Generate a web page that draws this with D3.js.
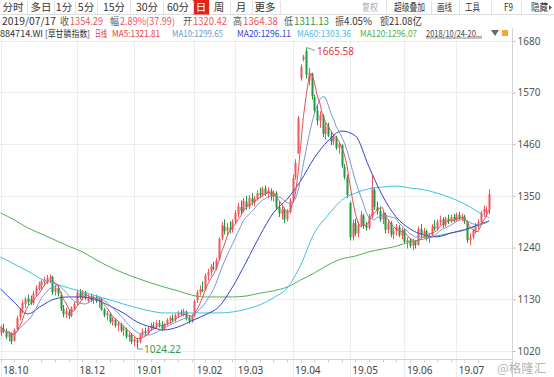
<!DOCTYPE html>
<html>
<head>
<meta charset="utf-8">
<script src="https://cdn.jsdelivr.net/npm/d3@7"></script>
<style>
  body { margin: 0; background: #fff; }
  svg { display: block; font-family: "Noto Sans CJK SC", "Noto Sans", sans-serif; }
</style>
</head>
<body>
<svg id="chart" width="554" height="377"></svg>
<script>
// Daily K-line of 884714.WI, 2018/10/24 - 2019/07/17

const opens = [
  1058,1068,1060,1050,1056,1042,1066,1092,1110,1120,1132,1130,1122,1140,1152,1160,1166,1170,1174,1178,
  1146,1154,1140,1110,1098,1104,1095,1110,1122,1144,1136,1145,1126,1134,1128,1134,1126,1130,1108,1096,
  1098,1082,1086,1074,1076,1064,1066,1050,1054,1040,1042,1040,1055,1062,1058,1068,1074,1072,1080,1076,
  1068,1078,1085,1090,1086,1096,1102,1098,1104,1090,1084,1094,1128,1144,1150,1150,1180,1188,1198,1196,
  1215,1260,1285,1276,1282,1278,1296,1312,1326,1318,1338,1326,1344,1336,1344,1356,1352,1366,1354,1360,
  1348,1356,1326,1312,1320,1300,1316,1340,1390,1440,1600,1640,1658,1595,1610,1560,1532,1510,1520,1482,
  1498,1478,1466,1474,1452,1458,1412,1390,1335,1262,1292,1270,1288,1308,1288,1282,1306,1362,1326,1318,
  1300,1310,1278,1292,1268,1275,1284,1266,1278,1252,1256,1244,1250,1246,1280,1268,1275,1260,1266,1285,
  1280,1294,1300,1288,1302,1296,1305,1298,1310,1302,1306,1296,1256,1262,1275,1284,1294,1314,1316,1320.42
];
const highs = [
  1075,1078,1068,1062,1060,1068,1095,1112,1128,1135,1140,1138,1148,1160,1168,1172,1178,1182,1183,1180,
  1162,1160,1145,1118,1112,1108,1115,1125,1150,1152,1150,1148,1140,1142,1138,1140,1136,1132,1112,1105,
  1102,1092,1090,1082,1080,1072,1070,1060,1058,1052,1048,1058,1068,1070,1072,1080,1082,1085,1086,1084,
  1080,1090,1095,1098,1100,1106,1108,1110,1106,1096,1098,1130,1150,1160,1168,1185,1195,1205,1210,1218,
  1262,1295,1300,1292,1296,1300,1320,1335,1340,1346,1350,1352,1356,1350,1362,1368,1370,1372,1368,1366,
  1362,1360,1338,1330,1325,1322,1345,1395,1428,1520,1630,1650,1665.58,1622,1612,1565,1545,1530,1524,1505,
  1506,1488,1482,1478,1466,1460,1418,1395,1338,1300,1302,1295,1318,1312,1295,1312,1395,1368,1338,1328,
  1318,1314,1300,1296,1282,1290,1288,1282,1280,1262,1260,1258,1256,1285,1290,1282,1278,1270,1290,1298,
  1300,1308,1305,1306,1310,1310,1312,1314,1316,1312,1310,1298,1270,1280,1292,1300,1318,1330,1328,1364.38
];
const lows = [
  1052,1058,1045,1040,1034,1040,1062,1085,1100,1112,1118,1118,1118,1135,1148,1150,1158,1162,1165,1140,
  1138,1136,1105,1092,1090,1088,1092,1106,1118,1130,1128,1128,1122,1124,1120,1122,1112,1105,1092,1085,
  1078,1074,1070,1062,1060,1052,1046,1040,1035,1030,1024.22,1036,1050,1052,1055,1062,1066,1068,1070,1062,
  1064,1074,1078,1082,1082,1090,1094,1094,1085,1078,1080,1092,1122,1138,1145,1148,1170,1180,1192,1192,
  1212,1255,1268,1265,1270,1272,1290,1305,1312,1315,1320,1322,1330,1328,1340,1345,1348,1350,1345,1340,
  1338,1320,1305,1300,1292,1296,1312,1335,1385,1440,1595,1636,1600,1585,1555,1525,1500,1495,1475,1470,
  1475,1458,1458,1448,1440,1410,1385,1345,1255,1255,1265,1262,1284,1280,1276,1278,1302,1320,1310,1295,
  1290,1270,1270,1262,1258,1265,1262,1258,1248,1238,1240,1234,1238,1244,1262,1260,1255,1250,1262,1276,
  1276,1288,1282,1284,1290,1292,1294,1295,1298,1296,1290,1250,1245,1258,1270,1280,1290,1305,1305,1311.13
];
const closes = [
  1070,1062,1050,1058,1040,1065,1090,1108,1122,1130,1124,1122,1142,1155,1162,1168,1172,1176,1178,1145,
  1155,1142,1110,1098,1105,1094,1112,1120,1145,1136,1146,1132,1134,1128,1134,1126,1130,1108,1096,1100,
  1082,1088,1074,1078,1064,1068,1050,1055,1040,1045,1038,1055,1062,1058,1068,1075,1072,1080,1076,1066,
  1078,1086,1090,1086,1096,1102,1098,1105,1090,1084,1094,1126,1145,1152,1148,1180,1188,1200,1195,1212,
  1258,1288,1275,1284,1278,1295,1314,1328,1318,1340,1326,1346,1336,1345,1356,1352,1365,1354,1362,1348,
  1356,1325,1312,1322,1300,1316,1340,1388,1420,1515,1625,1646,1608,1612,1562,1532,1510,1522,1482,1498,
  1478,1466,1476,1452,1460,1414,1390,1352,1262,1292,1270,1288,1310,1286,1282,1306,1368,1326,1318,1300,
  1312,1278,1292,1268,1275,1284,1266,1278,1252,1256,1244,1252,1246,1280,1268,1275,1260,1265,1285,1280,
  1295,1300,1288,1302,1296,1305,1298,1310,1302,1306,1296,1256,1262,1275,1284,1294,1314,1322,1320,1354.29
];

// long moving averages every 5 sessions
const maIdx = [0,5,10,15,20,25,30,35,40,45,50,55,60,65,70,75,80,85,90,95,100,105,110,115,120,125,130,135,140,145,150,155,160,165,170,175,179];
const ma20 = [1152,1124,1099,1116,1131,1135,1135,1129,1116,1101,1082,1071,1065,1071,1084,1097,1114,1156,1209,1265,1314,1343,1382,1431,1467,1488,1478,1412,1350,1305,1280,1267,1263,1271,1278,1288,1296.11];
const ma60 = [1220,1205,1190,1173,1163,1154,1146,1137,1129,1120,1112,1105,1101,1101,1101,1101,1101,1103,1109,1118,1133,1154,1203,1271,1309,1341,1356,1365,1369,1371,1367,1363,1356,1346,1333,1316,1303.36];
const ma120 = [1314,1299,1282,1269,1256,1243,1231,1214,1199,1186,1175,1165,1156,1148,1139,1135,1135,1135,1137,1143,1148,1156,1171,1186,1203,1216,1222,1231,1237,1243,1252,1258,1265,1271,1277,1288,1296.07];

const yTicks = [1020, 1130, 1240, 1350, 1460, 1570, 1680];
const monthIdx = [0, 28, 49, 71, 86, 107, 128, 148, 167];
const monthLabels = ['18.10','18.12','19.01','19.02','19.03','19.04','19.05','19.06','19.07'];

const tabs = ['分时','多日','1分','5分','15分','30分','60分','日','周','月','更多'];
const tools = ['复权','超级叠加','画线','工具','F9','隐藏'];

const RED = '#f0565c', GREEN = '#1f9a3c';
const C_MA5 = '#e2525a', C_MA10 = '#7d98cc', C_MA20 = '#3442d2', C_MA60 = '#3ec3df', C_MA120 = '#52b055';

const svg = d3.select('#chart');
const axisX = 512.5, plotBottom = 359.5;

const x = d3.scaleLinear().domain([0, closes.length - 1]).range([0.5, 489]);
const y = d3.scaleLinear().domain([1020, 1680]).range([351, 40.8]);

// ---------- header ----------
const head = svg.append('g');
head.append('line').attr('x1', 0).attr('x2', 554).attr('y1', 14.5).attr('y2', 14.5)
  .style('stroke', '#dcdcdc');

const tabX = [13, 41, 64, 86, 114, 147, 178, 201, 219, 241, 265];
const tabSep = [27, 54, 75, 97, 130, 163, 193, 209, 230, 252, 280, 386, 431, 459, 491, 521];
head.append('rect').attr('x', 193).attr('y', 0).attr('width', 16).attr('height', 14.5)
  .style('fill', '#e3241d');
head.selectAll('line.sep').data(tabSep).join('line').attr('class', 'sep')
  .attr('x1', d => d + 0.5).attr('x2', d => d + 0.5).attr('y1', 1).attr('y2', 14)
  .style('stroke', '#e2e2e2');
head.selectAll('text.tab').data(tabs).join('text').attr('class', 'tab')
  .attr('x', (d, i) => tabX[i]).attr('y', 11).attr('text-anchor', 'middle')
  .style('font-size', '10.5px')
  .style('fill', d => d === '日' ? '#fff' : '#333')
  .text(d => d);

// toolbar on the right: left edge and width of each label
const toolX = [362, 394, 437, 465, 504, 531];
const toolW = [16, 31, 15, 15, 9, 17];
head.selectAll('text.tool').data(tools).join('text').attr('class', 'tool')
  .attr('x', (d, i) => toolX[i]).attr('y', 11)
  .attr('textLength', (d, i) => toolW[i]).attr('lengthAdjust', 'spacingAndGlyphs')
  .style('font-size', '10px')
  .style('fill', d => d === '复权' ? '#aaa' : '#333')
  .text(d => d);
head.append('path').attr('d', 'M549,5 L552,7.5 L549,10 Z').style('fill', '#555');

// quote row
const row2 = [
  ['2019/07/17', 2, 54, '#333'], ['收', 60, 9, '#555'], ['1354.29', 70, 33, RED],
  ['幅', 110, 9, '#555'], ['2.89%(37.99)', 120, 55, RED],
  ['开', 183, 9, '#555'], ['1320.42', 193, 34, RED],
  ['高', 233, 9, '#555'], ['1364.38', 243, 35, RED],
  ['低', 284, 9, '#555'], ['1311.13', 294, 35, GREEN],
  ['振', 335, 9, '#555'], ['4.05%', 344, 28, '#333'],
  ['额', 380, 9, '#555'], ['21.08亿', 389, 33, '#333']
];
head.selectAll('text.q').data(row2).join('text').attr('class', 'q')
  .attr('x', d => d[1]).attr('y', 24.5)
  .attr('textLength', d => d[2]).attr('lengthAdjust', 'spacingAndGlyphs')
  .style('font-size', '10px').style('fill', d => d[3])
  .text(d => d[0]);

// indicator row
const row3 = [
  ['884714.WI', 0, 43, '#333'], ['[草甘膦指数]', 45, 45, '#333'], ['日线', 95, 12, '#e8362f'],
  ['MA5:1321.81', 112, 48, '#e8403c'], ['MA10:1299.65', 172, 51, '#6a9bd6'],
  ['MA20:1296.11', 237, 54, '#2f44dc'], ['MA60:1303.36', 297, 54, '#45c2e2'],
  ['MA120:1296.07', 360, 57, '#4cb050'], ['2018/10/24-20...', 426, 56, '#444']
];
head.selectAll('text.m').data(row3).join('text').attr('class', 'm')
  .attr('x', d => d[1]).attr('y', 36.5)
  .attr('textLength', d => d[2]).attr('lengthAdjust', 'spacingAndGlyphs')
  .style('font-size', '9px').style('fill', d => d[3])
  .text(d => d[0]);
head.append('line').attr('x1', 426).attr('x2', 482).attr('y1', 38).attr('y2', 38)
  .style('stroke', '#666').style('stroke-width', 0.8);
head.append('path').attr('d', 'M491,30 L499,30 L495,36 Z').style('fill', '#666');
head.append('rect').attr('x', 502).attr('y', 30).attr('width', 6).attr('height', 6)
  .style('fill', '#f3a73a');

// ---------- grid ----------
const grid = svg.append('g');
grid.selectAll('line.h').data(yTicks).join('line').attr('class', 'h')
  .attr('x1', 0).attr('x2', axisX)
  .attr('y1', d => Math.round(y(d)) + 0.5).attr('y2', d => Math.round(y(d)) + 0.5)
  .style('stroke', '#ececec');
grid.selectAll('line.v').data(monthIdx).join('line').attr('class', 'v')
  .attr('x1', d => Math.round(x(d)) + 0.5).attr('x2', d => Math.round(x(d)) + 0.5)
  .attr('y1', 40).attr('y2', 377)
  .style('stroke', '#ececec');

// ---------- axes ----------
const yAxis = d3.axisRight(y).tickValues(yTicks).tickSize(3).tickPadding(2)
  .tickFormat(d3.format('d'));
const yg = svg.append('g').attr('transform', `translate(${axisX},0)`).call(yAxis);
yg.select('.domain').remove();
yg.selectAll('.tick line').style('stroke', '#bbb');
yg.selectAll('.tick text').style('fill', '#555').style('font-size', '10px')
  .style('font-family', '"Noto Sans", sans-serif');
svg.append('line').attr('x1', axisX).attr('x2', axisX).attr('y1', 28).attr('y2', 377)
  .style('stroke', '#d4d4d4');

const xAxis = d3.axisBottom(x).tickValues(monthIdx).tickSize(0)
  .tickFormat((d, i) => monthLabels[i]);
const xg = svg.append('g').attr('transform', `translate(0,${plotBottom})`).call(xAxis);
xg.select('.domain').remove();
xg.selectAll('.tick text').attr('text-anchor', 'start').attr('dx', 2)
  .attr('y', 14).attr('dy', 0)
  .style('fill', '#444').style('font-size', '10px')
  .style('font-family', '"Noto Sans", sans-serif');
svg.append('line').attr('x1', 0).attr('x2', axisX).attr('y1', plotBottom).attr('y2', plotBottom)
  .style('stroke', '#d4d4d4');
svg.append('g').selectAll('line').data(d3.range(0, closes.length, 5)).join('line')
  .attr('x1', d => Math.round(x(d)) + 0.5).attr('x2', d => Math.round(x(d)) + 0.5)
  .attr('y1', plotBottom).attr('y2', plotBottom + 3)
  .style('stroke', '#d0d0d0');

// ---------- moving averages ----------
function movingAvg(n) {
  return closes.map((c, i) => d3.mean(closes.slice(Math.max(0, i - n + 1), i + 1)));
}
const lineDaily = d3.line().x((d, i) => x(i)).y(d => y(d));
const lineSampled = d3.line().x(d => x(d[0])).y(d => y(d[1])).curve(d3.curveMonotoneX);

const maG = svg.append('g').style('fill', 'none').style('stroke-width', 1);
[[ma120, C_MA120], [ma60, C_MA60], [ma20, C_MA20]].forEach(([vals, col]) => {
  maG.append('path').datum(maIdx.map((d, i) => [d, vals[i]]))
    .attr('d', lineSampled).style('stroke', col);
});

// ---------- candles ----------
const idx = d3.range(closes.length);
const cg = svg.append('g');
const col = i => closes[i] >= opens[i] ? RED : GREEN;
cg.selectAll('line').data(idx).join('line')
  .attr('x1', i => Math.round(x(i)) + 0.5).attr('x2', i => Math.round(x(i)) + 0.5)
  .attr('y1', i => y(highs[i])).attr('y2', i => y(lows[i]))
  .style('stroke', col);
cg.selectAll('rect').data(idx).join('rect')
  .attr('x', i => Math.round(x(i)) - 0.5)
  .attr('width', 2)
  .attr('y', i => y(Math.max(opens[i], closes[i])))
  .attr('height', i => Math.max(1, Math.abs(y(opens[i]) - y(closes[i]))))
  .style('fill', col);

[[movingAvg(10), C_MA10], [movingAvg(5), C_MA5]].forEach(([vals, c]) => {
  maG.append('path').datum(vals).attr('d', lineDaily).style('stroke', c);
});
maG.raise();

// ---------- extreme labels ----------
const hiI = d3.maxIndex(highs), loI = d3.minIndex(lows);
const hx = Math.round(x(hiI)) + 1, hy = y(highs[hiI]);
svg.append('line').attr('x1', hx).attr('y1', hy).attr('x2', hx + 8).attr('y2', hy + 3)
  .style('stroke', '#7a9aa8');
svg.append('text').attr('x', hx + 10).attr('y', hy + 7)
  .style('font-size', '10px').style('fill', '#e2383a')
  .style('font-family', '"Noto Sans", sans-serif')
  .text(d3.format('.2f')(highs[hiI]));
const lx = Math.round(x(loI)) + 1, ly = y(lows[loI]);
svg.append('line').attr('x1', lx).attr('y1', ly).attr('x2', lx + 5).attr('y2', ly)
  .style('stroke', '#7a9aa8');
svg.append('text').attr('x', lx + 6).attr('y', ly + 3.5)
  .style('font-size', '10px').style('fill', '#3a9a44')
  .style('font-family', '"Noto Sans", sans-serif')
  .text(d3.format('.2f')(lows[loI]));

// watermark
svg.append('text').attr('x', 497).attr('y', 373)
  .style('font-size', '12.5px').style('fill', '#b4b4b4')
  .text('@格隆汇');
</script>
</body>
</html>
